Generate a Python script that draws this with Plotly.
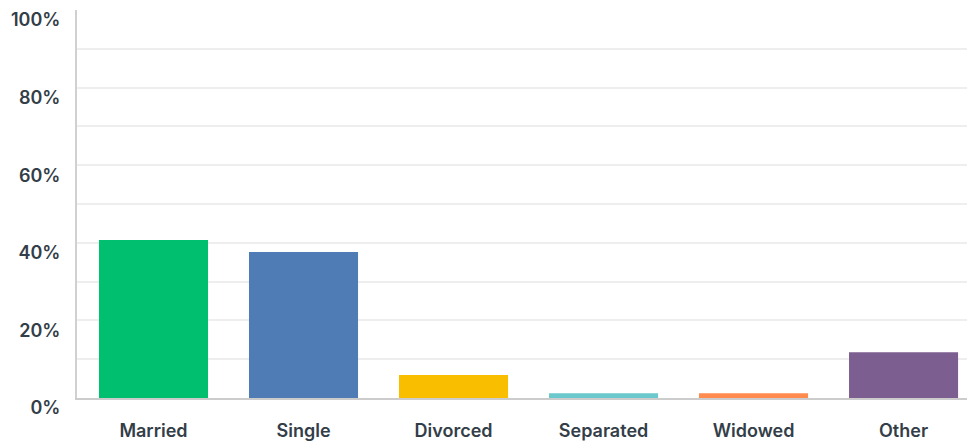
import plotly.graph_objects as go

# Marital status responses (% of respondents)
categories = ["Married", "Single", "Divorced", "Separated", "Widowed", "Other"]
percentages = [40.7, 37.6, 5.9, 1.2, 1.2, 11.8]
bar_colors = ["#00bf6f", "#507cb6", "#f9be00", "#6bc8cd", "#ff8b4f", "#7d5e90"]
y_tick_values = [0, 20, 40, 60, 80, 100]
y_tick_labels = ["0%", "20%", "40%", "60%", "80%", "100%"]

text_color = "#333e48"
font_family = "Inter"

fig = go.Figure(
    go.Bar(
        x=categories,
        y=percentages,
        marker=dict(color=bar_colors, line=dict(width=0)),
        width=0.727,
        hoverinfo="skip",
    )
)

fig.update_layout(
    width=967,
    height=443,
    margin=dict(l=77, r=0, t=10, b=45),
    paper_bgcolor="white",
    plot_bgcolor="white",
    showlegend=False,
    font=dict(family=font_family, color=text_color),
    xaxis=dict(
        type="category",
        range=[-0.51, 5.423],
        showgrid=False,
        showline=True,
        linecolor="#cccccc",
        linewidth=2,
        ticks="",
        tickfont=dict(family=font_family, size=18, color=text_color, weight=600),
        ticklabelstandoff=15,
        fixedrange=True,
    ),
    yaxis=dict(
        range=[0, 100],
        tickvals=y_tick_values,
        ticktext=y_tick_labels,
        showgrid=True,
        gridcolor="#eeeeee",
        gridwidth=2,
        minor=dict(dtick=10, showgrid=True, gridcolor="#eeeeee", gridwidth=2),
        zeroline=False,
        showline=True,
        linecolor="#d0d0d0",
        linewidth=2,
        ticks="",
        tickfont=dict(family=font_family, size=18, color=text_color, weight=600),
        ticklabelstandoff=11,
        ticklabelshift=10,
        fixedrange=True,
    ),
)

fig.write_html("out.html")
